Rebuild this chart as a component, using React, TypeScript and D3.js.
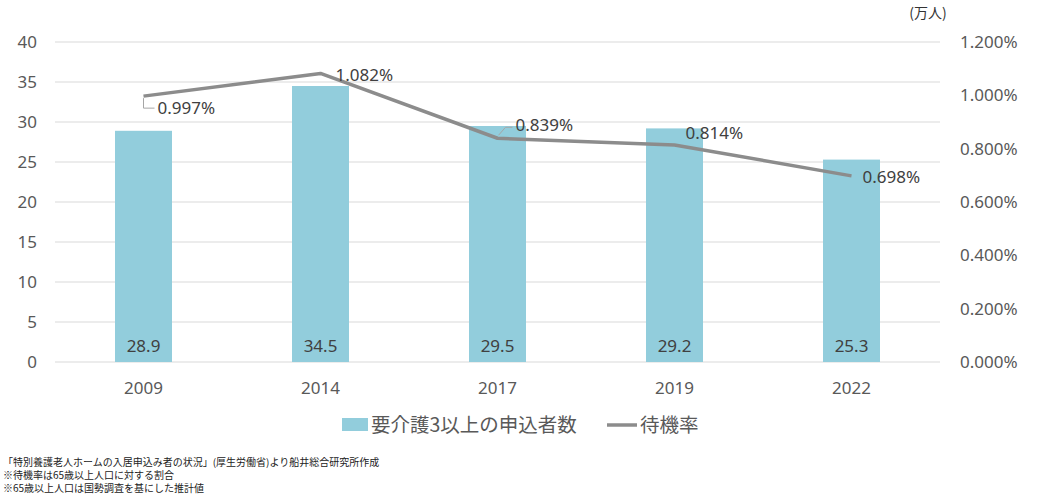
import React from "react";
import * as d3 from "d3";

const categories = ["2009", "2014", "2017", "2019", "2022"];
const applicants = [28.9, 34.5, 29.5, 29.2, 25.3];
const waitRate = [0.997, 1.082, 0.839, 0.814, 0.698];
const leftTicks = [0, 5, 10, 15, 20, 25, 30, 35, 40];
const rightTicks = [0, 0.2, 0.4, 0.6, 0.8, 1.0, 1.2];
const barLegend = "要介護3以上の申込者数";
const lineLegend = "待機率";
const unitLabel = "(万人)";
const notes = [
  "「特別養護老人ホームの入居申込み者の状況」(厚生労働省)より船井総合研究所作成",
  "※待機率は65歳以上人口に対する割合",
  "※65歳以上人口は国勢調査を基にした推計値",
];
// label offsets (dx to left edge, dy to vertical centre) and whether a leader line is drawn
const labelOffsets: [number, number, boolean][] = [
  [14, 12, true],
  [15, 2, false],
  [18, -13, true],
  [11, -12, false],
  [11, 1, false],
];

const W = 1042;
const H = 496;
const left = 55;
const right = 940;
const top = 42;
const bottom = 362;
const FONT = "'Noto Sans', 'Open Sans', sans-serif";
const JFONT = "'Noto Sans CJK JP', 'Noto Sans', sans-serif";

export default function App() {
  const x = d3.scaleBand<string>().domain(categories).range([left, right]).paddingInner(0.678).paddingOuter(0.339);
  const y = d3.scaleLinear().domain([0, 40]).range([bottom, top]);
  const y2 = d3.scaleLinear().domain([0, 1.2]).range([bottom, top]);
  const cx = (c: string) => (x(c) as number) + x.bandwidth() / 2;
  const line = d3
    .line<number>()
    .x((_, i) => cx(categories[i]))
    .y((d) => y2(d));
  const fmt = d3.format(".3f");

  return (
    <svg width={W} height={H} style={{ position: "absolute", left: 0, top: 0, background: "#fff" }}>
      {leftTicks.map((t) => (
        <line key={"g" + t} x1={left} x2={right} y1={y(t)} y2={y(t)} stroke="#d9d9d9" strokeWidth={1} />
      ))}
      {leftTicks.map((t) => (
        <text key={"l" + t} x={37} y={y(t)} dy="0.35em" textAnchor="end" fontFamily={FONT} fontSize={17} fill="#595959">
          {t}
        </text>
      ))}
      {rightTicks.map((t) => (
        <text key={"r" + t} x={960} y={y2(t)} dy="0.35em" textAnchor="start" fontFamily={FONT} fontSize={17} fill="#595959">
          {fmt(t) + "%"}
        </text>
      ))}
      <text x={928} y={18} textAnchor="middle" fontFamily={JFONT} fontSize={14} fill="#333">
        {unitLabel}
      </text>
      {categories.map((c, i) => (
        <rect key={"b" + c} x={x(c)} y={y(applicants[i])} width={x.bandwidth()} height={bottom - y(applicants[i])} fill="#92CDDC" />
      ))}
      {categories.map((c, i) => (
        <text key={"bl" + c} x={cx(c)} y={346} dy="0.35em" textAnchor="middle" fontFamily={FONT} fontSize={17} fill="#404040">
          {applicants[i].toFixed(1)}
        </text>
      ))}
      {categories.map((c) => (
        <text key={"x" + c} x={cx(c)} y={388} dy="0.35em" textAnchor="middle" fontFamily={FONT} fontSize={17} fill="#595959">
          {c}
        </text>
      ))}
      <path d={line(waitRate) || ""} fill="none" stroke="#8c8c8c" strokeWidth={3.5} strokeLinejoin="round" />
      {categories.map((c, i) => {
        const px = cx(c);
        const py = y2(waitRate[i]);
        const [dx, dy, leader] = labelOffsets[i];
        const lx = px + dx;
        const ly = py + dy;
        let leaderPath = "";
        if (leader) {
          if (dy > 0) leaderPath = `M${px},${py + 2}L${px},${ly}L${lx - 3},${ly}`;
          else leaderPath = `M${px + 1},${py - 3}L${px + 8},${ly + 2}L${lx - 3},${ly + 2}`;
        }
        return (
          <g key={"ll" + c}>
            {leader && <path d={leaderPath} fill="none" stroke="#a6a6a6" strokeWidth={1} />}
            <text x={lx} y={ly} dy="0.35em" fontFamily={FONT} fontSize={17} fill="#404040">
              {fmt(waitRate[i]) + "%"}
            </text>
          </g>
        );
      })}
      <rect x={342} y={418} width={26} height={13} fill="#92CDDC" />
      <text x={371} y={425} dy="0.35em" fontFamily={JFONT} fontSize={19.5} fill="#595959">
        {barLegend}
      </text>
      <line x1={607} x2={637} y1={425} y2={425} stroke="#8c8c8c" strokeWidth={3.5} />
      <text x={640} y={425} dy="0.35em" fontFamily={JFONT} fontSize={19.5} fill="#595959">
        {lineLegend}
      </text>
      {notes.map((n, i) => (
        <text key={"n" + i} x={3} y={462 + i * 13} dy="0.35em" fontFamily={JFONT} fontSize={10} fill="#222">
          {n}
        </text>
      ))}
    </svg>
  );
}
